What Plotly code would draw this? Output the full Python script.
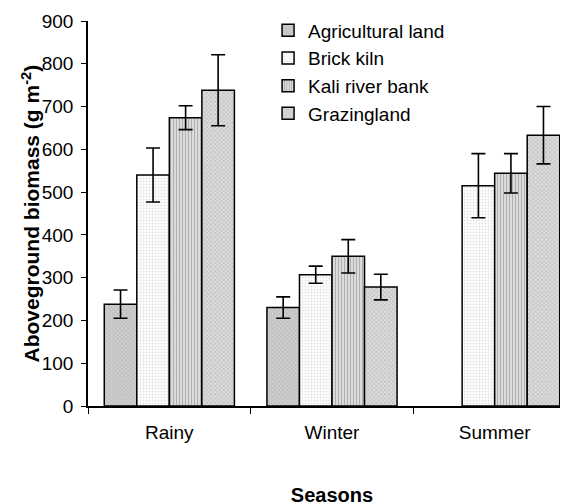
import plotly.graph_objects as go

seasons = ["Rainy", "Winter", "Summer"]
series_names = ["Agricultural land", "Brick kiln", "Kali river bank", "Grazingland"]
agricultural = [238, 230, None]
agricultural_err = [33, 25, None]
brick_kiln = [540, 307, 515]
brick_kiln_err = [63, 20, 75]
kali_river = [674, 350, 544]
kali_river_err = [28, 39, 46]
grazing = [738, 278, 633]
grazing_err = [83, 30, 67]

values = [agricultural, brick_kiln, kali_river, grazing]
errors = [agricultural_err, brick_kiln_err, kali_river_err, grazing_err]
patterns = [
    dict(shape="x", fgcolor="#8c8c8c", bgcolor="#cfcfcf", size=3, solidity=0.3),
    dict(shape=".", fgcolor="#c4c4c4", bgcolor="#ffffff", size=3, solidity=0.3),
    dict(shape="|", fgcolor="#7a7a7a", bgcolor="#e4e4e4", size=3, solidity=0.45),
    dict(shape="x", fgcolor="#9a9a9a", bgcolor="#dcdcdc", size=3, solidity=0.4),
]

FONT = "Arial, Liberation Sans, sans-serif"

fig = go.Figure()
for name, vals, errs, pat in zip(series_names, values, errors, patterns):
    fig.add_trace(go.Bar(
        name=name, x=seasons, y=vals,
        error_y=dict(type="data", array=errs, color="black", thickness=1.6, width=7),
        marker=dict(color=pat["bgcolor"], pattern=pat, line=dict(color="black", width=1.5)),
    ))

fig.update_layout(
    width=568, height=504,
    margin=dict(l=80, r=0, t=13, b=106),
    paper_bgcolor="white", plot_bgcolor="white",
    barmode="group", bargap=0.2, bargroupgap=0,
    font=dict(family=FONT, size=19, color="black"),
    legend=dict(x=0.369, y=1.025, xanchor="left", yanchor="top",
                font=dict(size=19), bgcolor="rgba(0,0,0,0)", tracegroupgap=0),
    xaxis=dict(
        type="category", range=[-0.5, 2.5], showline=True, linecolor="black", linewidth=1.5,
        tickson="boundaries", ticks="outside", ticklen=6, tickcolor="black", tickwidth=1,
        ticklabelstandoff=8, showgrid=False, automargin=False,
        title=dict(text="<b>Seasons</b>", font=dict(size=20), standoff=46),
    ),
    yaxis=dict(
        range=[0, 900], dtick=100, showline=True, linecolor="black", linewidth=1.5,
        ticks="outside", ticklen=5, tickcolor="black", tickwidth=1, showgrid=False,
        zeroline=False, automargin=False, ticklabelstandoff=4,
    ),
    annotations=[dict(
        text="<b>Aboveground biomass (g m<sup>-2</sup>)</b>", textangle=-90,
        xref="paper", yref="paper", x=(22 - 80) / 488, y=0.5,
        xanchor="center", yanchor="middle", showarrow=False, font=dict(size=21),
    )],
)

fig.write_html("out.html")
